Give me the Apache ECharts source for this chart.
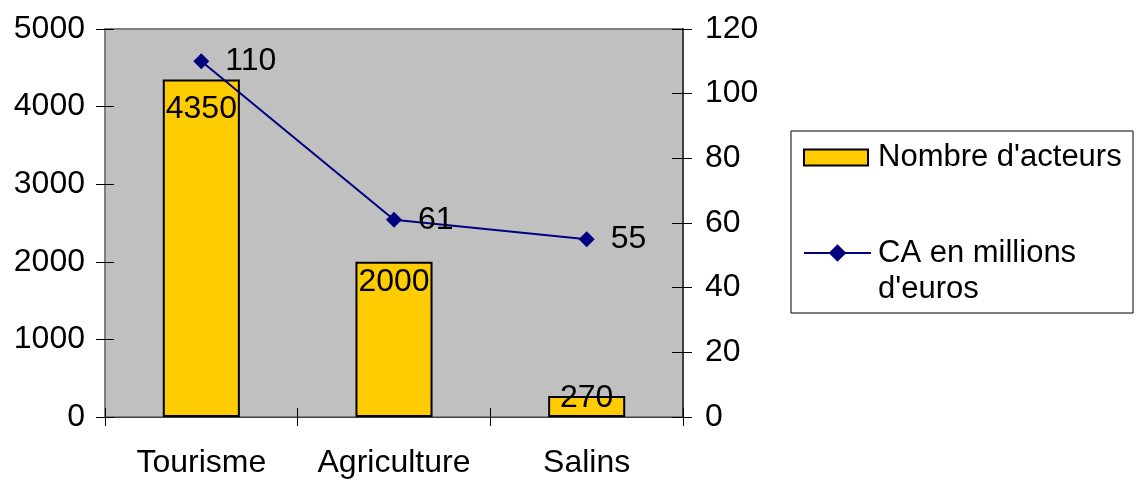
<!DOCTYPE html>
<html>
<head>
<meta charset="utf-8">
<script src="https://cdn.jsdelivr.net/npm/echarts@6/dist/echarts.min.js"></script>
<style>
  html, body { margin: 0; padding: 0; background: #ffffff; }
  #chart { width: 1143px; height: 480px; }
</style>
</head>
<body>
<div id="chart"></div>
<script>
// Activity sectors, number of actors and turnover (millions of euros)
const categories = ['Tourisme', 'Agriculture', 'Salins'];
const acteurs = [4350, 2000, 270];
const chiffreAffaires = [110, 61, 55];

const FONT = "'Liberation Sans', Arial, sans-serif";
const FS = 32;
const LEGEND_FS = 31;
const barName = "Nombre d'acteurs";
const lineName = "CA en millions d'euros";

// vertical drop of each bar's value label below the bar top (px)
const barLabelDrop = [30, 20, 2];

const chart = echarts.init(document.getElementById('chart'), null, { renderer: 'canvas' });

const tickStyle = { color: '#000000', width: 1 };
const plain = function (v) { return String(v); };

const option = {
  animation: false,
  backgroundColor: '#ffffff',
  textStyle: { fontFamily: FONT, color: '#000000' },
  grid: {
    left: 105, right: 460, top: 29, bottom: 63,
    show: true,
    backgroundColor: '#c0c0c0',
    borderColor: '#808080',
    borderWidth: 2
  },
  graphic: [{
    type: 'rect',
    z: 0,
    shape: { x: 791, y: 131, width: 342, height: 182 },
    style: { fill: '#ffffff', stroke: '#000000', lineWidth: 1 }
  }],
  legend: [
    {
      data: [{ name: barName, icon: 'rect' }],
      orient: 'vertical',
      left: 803, top: 142,
      padding: 0,
      itemWidth: 64, itemHeight: 16,
      z: 5,
      formatter: function (name) { return '{t|' + name + '}'; },
      textStyle: {
        fontFamily: FONT, fontSize: LEGEND_FS, color: '#000000',
        rich: { t: { fontFamily: FONT, fontSize: LEGEND_FS, color: '#000000', padding: [0, 0, 0, 5] } }
      }
    },
    {
      data: [lineName],
      orient: 'vertical',
      left: 803, top: 199,
      padding: 0,
      itemWidth: 67, itemHeight: 22,
      z: 5,
      // leading empty line keeps the first text line level with the icon
      formatter: function () { return "\n{t|CA en millions}\n{t|d'euros}"; },
      textStyle: {
        fontFamily: FONT, fontSize: LEGEND_FS, color: '#000000', lineHeight: 36,
        rich: { t: { fontFamily: FONT, fontSize: LEGEND_FS, color: '#000000', lineHeight: 36, padding: [0, 0, 0, 2] } }
      }
    }
  ],
  xAxis: [
    {
      type: 'category',
      data: categories,
      position: 'bottom',
      axisLine: { show: true, lineStyle: { color: '#404040', width: 1 } },
      axisTick: { show: true, inside: false, length: 9, lineStyle: tickStyle },
      axisLabel: { fontFamily: FONT, fontSize: FS, color: '#000000', margin: 30, interval: 0 },
      splitLine: { show: false }
    },
    {
      type: 'category',
      data: categories,
      position: 'bottom',
      axisLine: { show: false },
      axisTick: { show: true, inside: true, length: 9, lineStyle: tickStyle },
      axisLabel: { show: false },
      splitLine: { show: false }
    }
  ],
  yAxis: [
    {
      type: 'value',
      position: 'left',
      min: 0, max: 5000, interval: 1000,
      axisLine: { show: true, lineStyle: { color: '#808080', width: 1 } },
      axisTick: { show: true, inside: false, length: 9, lineStyle: tickStyle },
      axisLabel: { fontFamily: FONT, fontSize: FS, color: '#000000', margin: 20, formatter: plain },
      splitLine: { show: false }
    },
    {
      type: 'value',
      position: 'right',
      min: 0, max: 120, interval: 20,
      axisLine: { show: true, lineStyle: { color: '#404040', width: 2 } },
      axisTick: { show: true, inside: false, length: 9, lineStyle: tickStyle },
      axisLabel: { fontFamily: FONT, fontSize: FS, color: '#000000', margin: 22, formatter: plain },
      splitLine: { show: false }
    },
    {
      type: 'value',
      position: 'left',
      min: 0, max: 5000, interval: 1000,
      axisLine: { show: false },
      axisTick: { show: true, inside: true, length: 9, lineStyle: tickStyle },
      axisLabel: { show: false },
      splitLine: { show: false }
    },
    {
      type: 'value',
      position: 'right',
      min: 0, max: 120, interval: 20,
      axisLine: { show: false },
      axisTick: { show: true, inside: true, length: 11, lineStyle: tickStyle },
      axisLabel: { show: false },
      splitLine: { show: false }
    }
  ],
  series: [
    {
      name: barName,
      type: 'bar',
      xAxisIndex: 0,
      yAxisIndex: 0,
      barWidth: '40%',
      itemStyle: { color: '#ffcc00', borderColor: '#000000', borderWidth: 2 },
      label: {
        show: true,
        fontFamily: FONT, fontSize: FS, color: '#000000',
        align: 'center', verticalAlign: 'middle'
      },
      data: acteurs.map(function (v, i) {
        return { value: v, label: { position: ['50%', barLabelDrop[i]] } };
      }),
      z: 2
    },
    {
      name: lineName,
      type: 'line',
      xAxisIndex: 0,
      yAxisIndex: 1,
      symbol: 'diamond',
      symbolSize: 16,
      color: '#000080',
      itemStyle: { color: '#000080' },
      lineStyle: { color: '#000080', width: 2 },
      label: {
        show: true, position: 'right', distance: 16,
        fontFamily: FONT, fontSize: FS, color: '#000000'
      },
      data: chiffreAffaires,
      z: 3
    }
  ]
};

chart.setOption(option);
</script>
</body>
</html>
